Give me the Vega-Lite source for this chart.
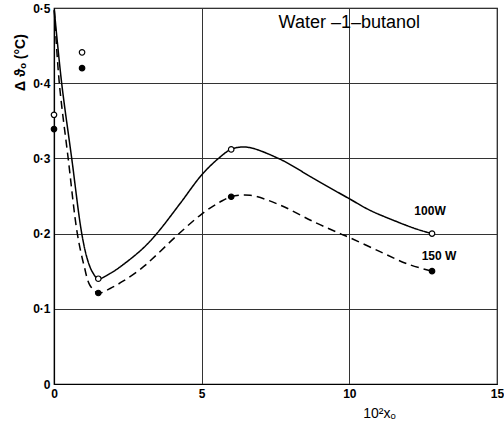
{
  "$schema": "https://vega.github.io/schema/vega-lite/v6.json",
  "width": 443,
  "height": 376,
  "autosize": "none",
  "padding": {"left": 54, "top": 8, "right": 7, "bottom": 40},
  "background": "white",
  "config": {
    "view": {"stroke": "black", "strokeWidth": 1.2},
    "font": "Liberation Sans"
  },
  "datasets": {
    "curves": [
      {"series": "100W", "x": 0.01, "y": 0.497},
      {"series": "100W", "x": 0.26, "y": 0.4},
      {"series": "100W", "x": 0.6, "y": 0.3},
      {"series": "100W", "x": 0.94, "y": 0.2},
      {"series": "100W", "x": 1.13, "y": 0.166},
      {"series": "100W", "x": 1.3, "y": 0.149},
      {"series": "100W", "x": 1.5, "y": 0.14},
      {"series": "100W", "x": 1.9, "y": 0.147},
      {"series": "100W", "x": 2.35, "y": 0.159},
      {"series": "100W", "x": 3.0, "y": 0.18},
      {"series": "100W", "x": 3.48, "y": 0.2},
      {"series": "100W", "x": 4.27, "y": 0.24},
      {"series": "100W", "x": 5.0, "y": 0.278},
      {"series": "100W", "x": 5.57, "y": 0.3},
      {"series": "100W", "x": 6.0, "y": 0.312},
      {"series": "100W", "x": 6.52, "y": 0.315},
      {"series": "100W", "x": 7.65, "y": 0.299},
      {"series": "100W", "x": 8.78, "y": 0.2735},
      {"series": "100W", "x": 9.97, "y": 0.247},
      {"series": "100W", "x": 10.7, "y": 0.231},
      {"series": "100W", "x": 11.6, "y": 0.216},
      {"series": "100W", "x": 12.28, "y": 0.206},
      {"series": "100W", "x": 12.8, "y": 0.2},
      {"series": "150W", "x": 0.01, "y": 0.497},
      {"series": "150W", "x": 0.18, "y": 0.4},
      {"series": "150W", "x": 0.48, "y": 0.3},
      {"series": "150W", "x": 0.79, "y": 0.2},
      {"series": "150W", "x": 1.02, "y": 0.157},
      {"series": "150W", "x": 1.22, "y": 0.131},
      {"series": "150W", "x": 1.5, "y": 0.121},
      {"series": "150W", "x": 1.9, "y": 0.127},
      {"series": "150W", "x": 2.35, "y": 0.137},
      {"series": "150W", "x": 3.0, "y": 0.155},
      {"series": "150W", "x": 3.48, "y": 0.172},
      {"series": "150W", "x": 4.15, "y": 0.197},
      {"series": "150W", "x": 5.0, "y": 0.226},
      {"series": "150W", "x": 5.62, "y": 0.242},
      {"series": "150W", "x": 6.0, "y": 0.249},
      {"series": "150W", "x": 6.64, "y": 0.251},
      {"series": "150W", "x": 7.65, "y": 0.238},
      {"series": "150W", "x": 8.78, "y": 0.216},
      {"series": "150W", "x": 9.69, "y": 0.2},
      {"series": "150W", "x": 10.02, "y": 0.1945},
      {"series": "150W", "x": 11.04, "y": 0.176},
      {"series": "150W", "x": 11.94, "y": 0.16},
      {"series": "150W", "x": 12.8, "y": 0.15}
    ],
    "points": [
      {"series": "100W", "x": 0.0, "y": 0.358},
      {"series": "100W", "x": 0.95, "y": 0.441},
      {"series": "100W", "x": 1.5, "y": 0.14},
      {"series": "100W", "x": 6.0, "y": 0.312},
      {"series": "100W", "x": 12.8, "y": 0.2},
      {"series": "150W", "x": 0.0, "y": 0.339},
      {"series": "150W", "x": 0.95, "y": 0.42},
      {"series": "150W", "x": 1.5, "y": 0.121},
      {"series": "150W", "x": 6.0, "y": 0.249},
      {"series": "150W", "x": 12.8, "y": 0.15}
    ],
    "labels": [
      {"series": "100W", "text": "100W", "x": 12.8, "y": 0.2},
      {"series": "150W", "text": "150 W", "x": 12.8, "y": 0.15}
    ],
    "title": [
      {"text": "Water –1–butanol", "x": 10.0, "y": 0.48}
    ]
  },
  "layer": [
    {
      "data": {"name": "curves"},
      "mark": {"type": "line", "interpolate": "catmull-rom", "color": "black", "strokeWidth": 1.5},
      "encoding": {
        "x": {
          "field": "x", "type": "quantitative",
          "scale": {"domain": [0, 15], "nice": false, "zero": false},
          "axis": {
            "values": [0, 5, 10, 15], "format": "d",
            "title": "10²xₒ", "titleX": 325, "titleY": 29, "titleBaseline": "middle",
            "titleFontSize": 14, "titleFontWeight": "normal", "titleColor": "black",
            "labelFontSize": 12, "labelFontWeight": "bold", "labelColor": "black",
            "labelPadding": 4, "ticks": false, "domainColor": "black", "domainWidth": 1.2,
            "grid": true, "gridColor": "#333", "gridWidth": 1, "labelFlush": false
          }
        },
        "y": {
          "field": "y", "type": "quantitative",
          "scale": {"domain": [0, 0.5], "nice": false},
          "axis": {
            "values": [0, 0.1, 0.2, 0.3, 0.4, 0.5],
            "labelExpr": "datum.value == 0 ? '0' : replace(format(datum.value, '.1f'), '.', '·')",
            "title": "Δ ϑₒ (°C)", "titleX": -34, "titleY": 54, "titleAngle": -90,
            "titleAlign": "center", "titleBaseline": "middle",
            "titleFontSize": 14, "titleFontWeight": "bold", "titleColor": "black",
            "labelFontSize": 12, "labelFontWeight": "bold", "labelColor": "black",
            "labelPadding": 4, "ticks": false, "domainColor": "black", "domainWidth": 1.2,
            "grid": true, "gridColor": "#333", "gridWidth": 1
          }
        },
        "strokeDash": {
          "field": "series", "type": "nominal",
          "scale": {"domain": ["100W", "150W"], "range": [[1, 0], [8, 5]]},
          "legend": null
        }
      }
    },
    {
      "data": {"name": "points"},
      "mark": {"type": "point", "shape": "circle", "size": 30, "stroke": "black", "strokeWidth": 1.2, "opacity": 1},
      "encoding": {
        "x": {"field": "x", "type": "quantitative"},
        "y": {"field": "y", "type": "quantitative"},
        "fill": {
          "field": "series", "type": "nominal",
          "scale": {"domain": ["100W", "150W"], "range": ["white", "black"]},
          "legend": null
        }
      }
    },
    {
      "data": {"name": "labels"},
      "transform": [{"filter": "datum.series == '100W'"}],
      "mark": {"type": "text", "fontSize": 12, "fontWeight": "bold", "color": "black", "align": "center", "baseline": "middle", "dx": -2, "dy": -23},
      "encoding": {
        "x": {"field": "x", "type": "quantitative"},
        "y": {"field": "y", "type": "quantitative"},
        "text": {"field": "text", "type": "nominal"}
      }
    },
    {
      "data": {"name": "labels"},
      "transform": [{"filter": "datum.series == '150W'"}],
      "mark": {"type": "text", "fontSize": 12, "fontWeight": "bold", "color": "black", "align": "center", "baseline": "middle", "dx": 7, "dy": -15},
      "encoding": {
        "x": {"field": "x", "type": "quantitative"},
        "y": {"field": "y", "type": "quantitative"},
        "text": {"field": "text", "type": "nominal"}
      }
    },
    {
      "data": {"name": "title"},
      "mark": {"type": "text", "fontSize": 18, "color": "black", "align": "center", "baseline": "middle"},
      "encoding": {
        "x": {"field": "x", "type": "quantitative"},
        "y": {"field": "y", "type": "quantitative"},
        "text": {"field": "text", "type": "nominal"}
      }
    }
  ]
}
